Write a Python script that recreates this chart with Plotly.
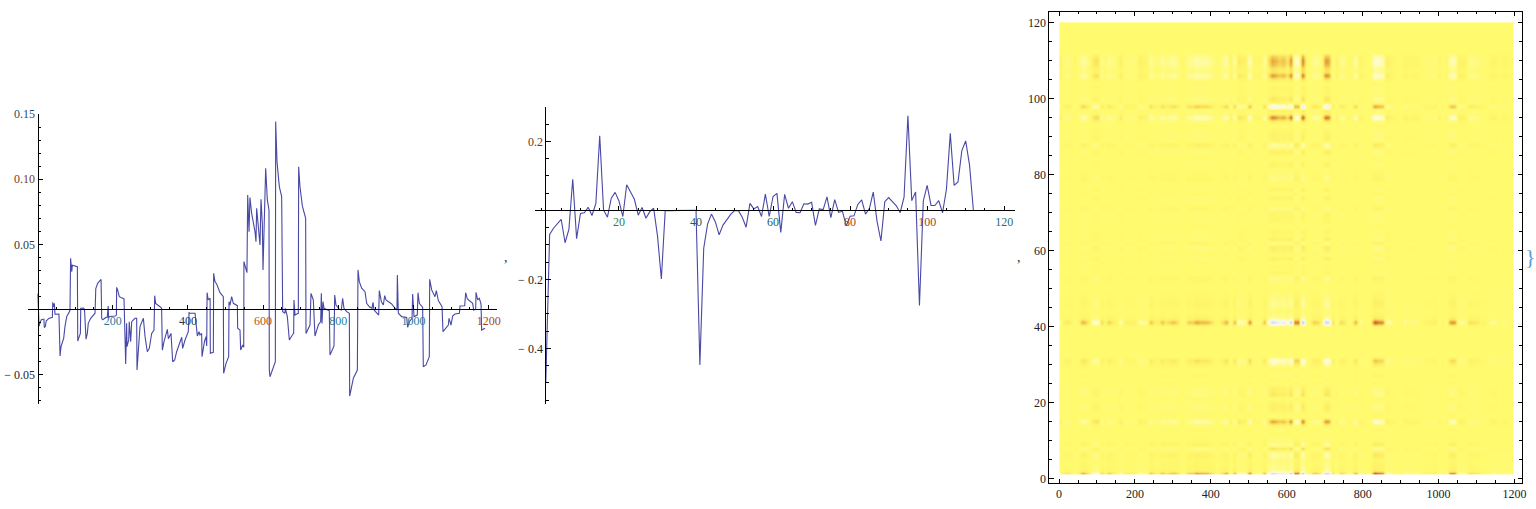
import numpy as np
import plotly.graph_objects as go

# ---------- data ----------
s1_x = [1,4,7,10,17,18,21,23,30,38,39.5,40.5,42,44.8,46.5,57,60,62.5,67,69.6,73,77.6,86.4,88,91,92.6,106,107,111,114,115,122,125,129,132.5,135,141.4,150,153,155,160,169,170.7,173.3,185.7,188,189,192,207,209.7,210.5,213,217.6,230,234.5,237,238,242.5,244,247.8,250.4,259.3,263.7,264.6,269,272.6,281.5,286,292,297.4,303.6,309.8,311.6,314.2,325.8,330,332,336.4,345.3,348,355,359.5,364.8,370,383.4,386,392.3,401,403,405.6,419,423,425,429.5,432,436.6,437.5,444,448,450,451,454,459,459.6,467.6,468.5,472,476.5,485.4,494.2,495,501.4,508.4,509.3,512,516.3,520.8,531.5,532.3,538.5,540.3,545.7,548.4,549,553.6,557,559,562.5,565,569.5,578.4,581,582.8,586.4,591.7,594.4,597.9,599.7,603.2,606.8,611.2,615.6,616.5,618.3,632.5,633.4,636.9,643.1,649.3,650.2,652,658,659,664.4,669.7,677.7,681.2,682.1,684.8,693.6,694.5,698,704.3,713.1,714,724.7,727.3,733.5,737.9,746.8,753,754.8,756.6,759.2,761.9,776,777.9,788.5,790.3,793.8,802.7,808,811.5,815,822.2,829.3,830.2,840,850.6,852.3,855.9,862,871,875.4,882.5,889.6,892.2,894.9,902,907.3,909,914.4,919.7,923.3,926.8,941.9,950.7,956,957,959.6,968.5,981.8,984.4,988.9,996,997.7,1001.3,1010,1011.9,1015.4,1024.3,1026,1033.2,1042,1043,1048.3,1057.1,1060.7,1066,1075.8,1078.4,1088.2,1092.6,1094.4,1099.7,1104.1,1110.3,1122,1123.6,1136,1138.7,1143.1,1157.3,1160,1165.3,1166.2,1170.6,1175,1179.5,1181.2,1190]
s1_y = [.012,-.013,-.010,-.008,-.0075,-.014,-.013,-.009,-.007,-.006,-.0062,.0054,.002,.0046,-.0038,-.0036,-.0359,-.0287,-.024,-.0223,-.0133,-.0056,-.001,.0392,.029,.034,.0328,-.0244,-.021,-.0185,.0008,.001,0,-.023,-.0185,-.0108,-.0069,-.0044,-.003,.016,.02,.023,-.007,-.008,-.0056,.0026,-.0065,-.0055,-.0052,-.0044,.0169,.015,.0097,.008,-.042,-.0108,-.0287,-.0236,-.0095,-.0249,-.0095,-.0069,-.0069,-.0467,-.0313,-.0133,-.0069,-.021,-.0326,-.03,-.0185,-.0159,.0105,.0046,.002,.0008,-.0313,-.0249,-.0154,-.0226,-.0185,-.0403,-.039,-.0326,-.0215,-.03,-.0236,-.0172,-.0026,-.003,-.003,-.0159,-.0205,-.0172,-.0197,-.0185,-.0364,-.0249,-.021,-.0282,.0128,.0072,.0085,-.0338,-.0331,.0277,.0213,.0195,.0128,.0097,-.0492,-.0415,-.0364,.0059,.0033,.0097,.0046,.0028,-.0146,-.0159,-.0313,-.0274,-.0292,.0367,.0328,.0282,.0879,.0597,.0859,.0738,.0597,.052,.0777,.0636,.0495,.0846,.066,.0303,.0623,.1085,.0841,.0764,-.0467,-.0518,-.0403,.1444,.1136,.0944,.0867,-.0005,-.0018,-.003,.0008,-.0056,-.0236,-.0197,-.0185,.0072,-.0044,-.003,.1097,.0944,.0795,.07,-.0185,-.0121,.0123,.0072,-.0205,-.0121,-.0095,.0123,-.0108,.0059,.0008,-.001,-.0351,-.0282,.011,.0033,0,-.0005,.0085,.0008,-.0018,-.003,-.0667,-.053,-.0467,.0303,.0213,.0162,.0136,.0046,.002,.0008,.0054,-.0005,-.003,-.0044,.0144,.0059,.0033,.0105,.0072,.0041,.0008,-.0005,.0264,-.003,-.0056,-.0062,-.0138,-.0095,-.0069,.0118,-.0056,-.0044,.0128,.0046,.0015,-.0441,-.0428,-.0364,.0231,.0149,.0097,.0144,.0067,.002,-.0172,-.0138,-.0121,-.0069,-.0121,-.0051,-.0036,-.003,.0026,.0028,.0128,.0079,.0046,-.0005,0,.0131,.0072,.0085,.0041,-.0159,-.0146]

s2_y = [-.5,-.07,-.052,-.04,-.026,-.094,-.055,.09,-.082,-.009,-.007,.009,-.015,.02,.216,.001,-.02,.035,.052,.027,-.018,.074,.051,.032,-.014,.008,-.023,-.004,.006,-.074,-.199,-.001,-.001,-.001,0,0,-.001,-.001,0,0,-.448,-.11,-.04,-.011,-.033,-.071,-.043,-.026,-.012,-.001,-.001,-.02,-.049,.02,.004,.011,-.018,.047,-.018,.04,.049,-.064,.046,.006,.025,-.006,-.007,.019,.018,.023,-.044,.004,.002,.039,-.021,.031,-.006,-.003,-.045,-.017,-.016,.017,.03,-.011,.005,.053,-.033,-.089,.025,.037,.024,.013,-.007,.038,.274,.028,.053,-.276,.027,.072,.014,.014,.028,-.007,.061,.223,.072,.082,.173,.201,.131,0]
s2_x = list(range(1, len(s2_y) + 1))

s1_major = [200,400,600,800,1000,1200]
s1_major_text = ["200","400","600","800","1000","1200"]
s1_major_col = ["#1f7f99","#2a3a44","#b5541a","#1f7f99","#1f7f99","#a8431c"]
s1_minor = [50,100,150,250,300,350,450,500,550,650,700,750,850,900,950,1050,1100,1150]
s1_yticks = [-.05,.05,.10,.15]
s1_ytext = ["\u2212 0.05","0.05","0.10","0.15"]
s1_ycol = ["#222222","#2a3a30","#7a3a1a","#1f4f66"]
s1_yminor = [-.07,-.06,-.04,-.03,-.02,-.01,.01,.02,.03,.04,.06,.07,.08,.09,.11,.12,.13,.14]

s2_major = [20,40,60,80,100,120]
s2_major_text = ["20","40","60","80","100","120"]
s2_major_col = ["#1f7f66","#1f5a66","#1f5a66","#a8431c","#a8431c","#1f6f80"]
s2_minor = [0,5,10,15,25,30,35,45,50,55,65,70,75,85,90,95,105,110,115]
s2_yticks = [-.4,-.2,.2]
s2_ytext = ["\u2212 0.4","\u2212 0.2","0.2"]
s2_ycol = ["#222222","#222222","#6a3a1a"]
s2_yminor = [-.55,-.5,-.45,-.35,-.3,-.25,-.15,-.1,-.05,.05,.1,.15,.25]

hm_xticks = [0,200,400,600,800,1000,1200]
hm_yticks = [0,20,40,60,80,100,120]
hm_xminor = [50,100,150,250,300,350,450,500,550,650,700,750,850,900,950,1050,1100,1150]
hm_yminor = [5,10,15,25,30,35,45,50,55,65,70,75,85,90,95,105,110,115]

# matrix on the right: the first series taken at every 10th step, times the second series
hm_cols = np.arange(1, 1197, 10.0)
held = np.searchsorted(np.array(s1_x), hm_cols, side="right") - 1
hm_col_vals = np.array(s1_y)[held]
hm_col_vals[hm_cols > s1_x[-1]] = 0.0
hm_rows = np.arange(1, 121)
hm_row_vals = np.array(s2_y + [0.0] * (120 - len(s2_y)))
hm_z = np.outer(hm_row_vals, hm_col_vals)

col_stops_z = [-.07, -.045, -.028, -.018, -.010, -.005, 0, .004, .008, .014, .02, .03, .036]
col_stops_c = ["#8fb0ee","#c0d0f0","#e6ecf2","#fafaf0","#fffcc4","#fffb96","#fffa6e","#fdf066","#f9dc5a","#eebc48","#de8c36","#d2562c","#c0391f"]
zmin, zmax = col_stops_z[0], col_stops_z[-1]
colorscale = [[(a - zmin) / (zmax - zmin), c] for a, c in zip(col_stops_z, col_stops_c)]

# ---------- layout ----------
W, H = 1536, 509
LINE = "#4848a6"
SERIF = "Liberation Serif"
def fx(p): return p / W
def fy(p): return 1 - p / H
def coloured(text, cols):
    return [f'<span style="color:{c}">{t}</span>' for t, c in zip(text, cols)]

def line_axes(xtv, xtt, xminor, ytv, ytt, yminor):
    xa = dict(tickmode="array", tickvals=xtv, ticktext=xtt, ticks="inside", ticklen=4.5, tickwidth=1,
              tickcolor="black", showline=True, linecolor="black", linewidth=1, showgrid=False, zeroline=False,
              tickfont=dict(family=SERIF, size=12, color="#222"),
              minor=dict(tickmode="array", tickvals=xminor, ticks="inside", ticklen=2.7, tickwidth=1, tickcolor="black", showgrid=False))
    ya = dict(tickmode="array", tickvals=ytv, ticktext=ytt, ticks="inside", ticklen=4.5, tickwidth=1,
              tickcolor="black", showline=True, linecolor="black", linewidth=1, showgrid=False, zeroline=False,
              tickfont=dict(family=SERIF, size=12, color="#222"),
              minor=dict(tickmode="array", tickvals=yminor, ticks="inside", ticklen=2.7, tickwidth=1, tickcolor="black", showgrid=False))
    return xa, ya

fig = go.Figure()
fig.add_trace(go.Scatter(x=s1_x, y=s1_y, mode="lines", line=dict(color=LINE, width=1.1), xaxis="x", yaxis="y", showlegend=False))
fig.add_trace(go.Scatter(x=s2_x, y=s2_y, mode="lines", line=dict(color=LINE, width=1.1), xaxis="x2", yaxis="y2", showlegend=False))

x_edges = np.concatenate([[hm_cols[0]], (hm_cols[:-1] + hm_cols[1:]) / 2, [1196.0]])
y_edges = np.concatenate([[1.13], (hm_rows[:-1] + hm_rows[1:]) / 2, [120.0]])
fig.add_trace(go.Heatmap(x=x_edges, y=y_edges, z=hm_z, colorscale=colorscale, zmin=zmin, zmax=zmax,
                         zsmooth="best", showscale=False, xaxis="x3", yaxis="y3", hoverinfo="skip"))

xa1, ya1 = line_axes(s1_major, coloured(s1_major_text, s1_major_col), s1_minor,
                     s1_yticks, coloured(s1_ytext, s1_ycol), s1_yminor)
xa1.update(domain=[fx(28), fx(497)], range=[-25.3, 1222], anchor="free", position=fy(309.3))
ya1.update(domain=[fy(404), fy(114)], range=[-.0728, .1502], anchor="free", position=fx(37.5))

xa2, ya2 = line_axes(s2_major, coloured(s2_major_text, s2_major_col), s2_minor,
                     s2_yticks, coloured(s2_ytext, s2_ycol), s2_yminor)
xa2.update(domain=[fx(535), fx(1015)], range=[-1.8, 122.8], anchor="free", position=fy(210.3))
ya2.update(domain=[fy(404), fy(107)], range=[-.5614, .2994], anchor="free", position=fx(545.3))

frame = dict(ticks="inside", ticklen=4.5, tickwidth=1, tickcolor="black", showline=True, linecolor="black",
             linewidth=1, mirror="ticks", showgrid=False, zeroline=False, tickmode="array",
             tickfont=dict(family=SERIF, size=12, color="#222"))
xa3 = dict(frame, tickvals=hm_xticks, domain=[fx(1049.3), fx(1522)], range=[-25.6, 1219.7], anchor="y3",
           minor=dict(tickmode="array", tickvals=hm_xminor, ticks="inside", ticklen=2.7, tickwidth=1, tickcolor="black", showgrid=False))
ya3 = dict(frame, tickvals=hm_yticks, domain=[fy(483), fy(11.7)], range=[-1.2, 122.8], anchor="x3",
           minor=dict(tickmode="array", tickvals=hm_yminor, ticks="inside", ticklen=2.7, tickwidth=1, tickcolor="black", showgrid=False))

# invisible full-page axes carry the separators, so they do not push the margins
overlay_x = dict(domain=[0, 1], range=[0, W], visible=False, anchor="y4")
overlay_y = dict(domain=[0, 1], range=[H, 0], visible=False, anchor="x4")

def note(px, py, text, size, color, xanchor="center"):
    return dict(x=px, y=py, xref="x4", yref="y4", text=text, showarrow=False, xanchor=xanchor,
                yanchor="middle", font=dict(family=SERIF, size=size, color=color))

fig.add_trace(go.Scatter(x=[0], y=[0], mode="markers", marker=dict(opacity=0), xaxis="x4", yaxis="y4",
                         showlegend=False, hoverinfo="skip"))

fig.update_layout(
    width=W, height=H, autosize=False, margin=dict(l=0, r=0, t=0, b=0, pad=0, autoexpand=False),
    paper_bgcolor="white", plot_bgcolor="rgba(0,0,0,0)",
    xaxis=xa1, yaxis=ya1, xaxis2=xa2, yaxis2=ya2, xaxis3=xa3, yaxis3=ya3, xaxis4=overlay_x, yaxis4=overlay_y,
    annotations=[note(505.5, 257, ",", 14, "#333"), note(1018.5, 257, ",", 14, "#333"),
                 note(1530, 256, "}", 22, "#5b9bd5"), note(1.5, 256, "{", 23, "#9cc6ea", "right")],
)
fig.write_html("out.html", config={"displayModeBar": False},
               post_script="document.body.style.margin='0';document.body.style.overflow='hidden';")
